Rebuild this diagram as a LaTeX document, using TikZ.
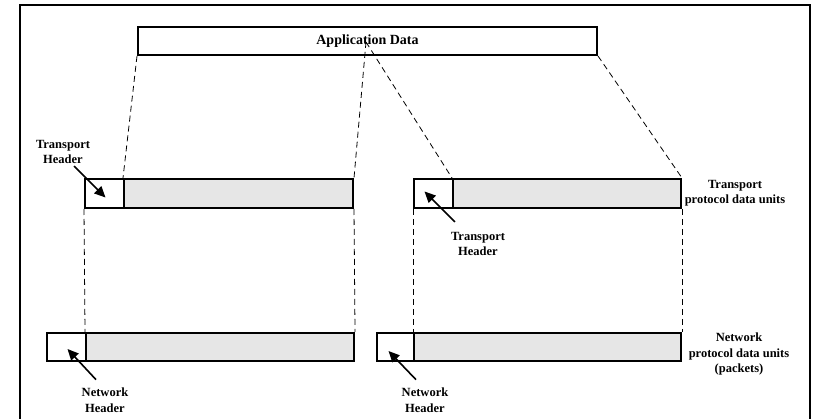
\documentclass[tikz,border=0pt]{standalone}
\usepackage{fontspec}
\setmainfont{Liberation Serif}
\usetikzlibrary{arrows.meta,calc}
\definecolor{pdugray}{HTML}{E6E6E6}
\tikzset{
  pdubox/.style={draw, line width=2pt, inner sep=0pt, anchor=north west},
  pdubody/.style={pdubox, fill=pdugray},
  guide/.style={dashed, dash pattern=on 6pt off 4pt, line width=0.8pt},
  lbl/.style={font=\bfseries\fontsize{12.5}{15.5}\selectfont, align=center, inner sep=0pt},
  ptr/.style={line width=1.6pt, -{Triangle[length=11pt,width=10pt]}}
}
\begin{document}
\begin{tikzpicture}[x=1pt,y=-1pt]
\useasboundingbox (0,0) rectangle (816,419);
\draw[line width=2.2pt] (20,5) rectangle (810,440);
% application data
\node[pdubox, minimum width=459pt, minimum height=28pt, font=\bfseries\fontsize{14}{16}\selectfont] (app) at (137,26) {Application Data};
% transport PDUs
\node[pdubox, minimum width=39pt, minimum height=29pt] (t1h) at (84,178) {};
\node[pdubody, minimum width=229pt, minimum height=29pt] (t1b) at (123,178) {};
\node[pdubox, minimum width=39pt, minimum height=29pt] (t2h) at (413,178) {};
\node[pdubody, minimum width=228pt, minimum height=29pt] (t2b) at (452,178) {};
% network PDUs
\node[pdubox, minimum width=39pt, minimum height=28pt] (n1h) at (46,332) {};
\node[pdubody, minimum width=268pt, minimum height=28pt] (n1b) at (85,332) {};
\node[pdubox, minimum width=37pt, minimum height=28pt] (n2h) at (376,332) {};
\node[pdubody, minimum width=267pt, minimum height=28pt] (n2b) at (413,332) {};
% guide lines
\coordinate (appmid) at (366,42);
\draw[guide] (app.south west) -- (t1b.north west);
\draw[guide] (appmid) -- (t1b.north east);
\draw[guide] (appmid) -- (t2b.north west);
\draw[guide] (app.south east) -- (t2b.north east);
\draw[guide] (t1h.south west) -- (n1b.north west);
\draw[guide] (t1b.south east) -- (n1b.north east);
\draw[guide] (t2h.south west) -- (n2b.north west);
\draw[guide] (t2b.south east) -- (n2b.north east);
% labels
\node[lbl] (lth1) at (63,152) {Transport\\Header};
\node[lbl] (lth2) at (478,244) {Transport\\Header};
\node[lbl] (ltpdu) at (735,193) {Transport\\protocol data units};
\node[lbl] (ln1) at (105,400) {Network\\Header};
\node[lbl] (ln2) at (425,400) {Network\\Header};
\node[lbl] (lnpdu) at (739,354) {Network\\protocol data units\\(packets)};
% pointers
\draw[ptr] ($(lth1.south)+(11,2)$) -- ($(t1h.center)+(1,4)$);
\draw[ptr] ($(lth2.north)+(-23,-10)$) -- ($(t2h.center)+(-9,-2)$);
\draw[ptr] ($(ln1.north)+(-9,-8)$) -- ($(n1h.center)+(1,2)$);
\draw[ptr] ($(ln2.north)+(-9,-8)$) -- ($(n2h.center)+(-7,4)$);
\end{tikzpicture}
\end{document}
